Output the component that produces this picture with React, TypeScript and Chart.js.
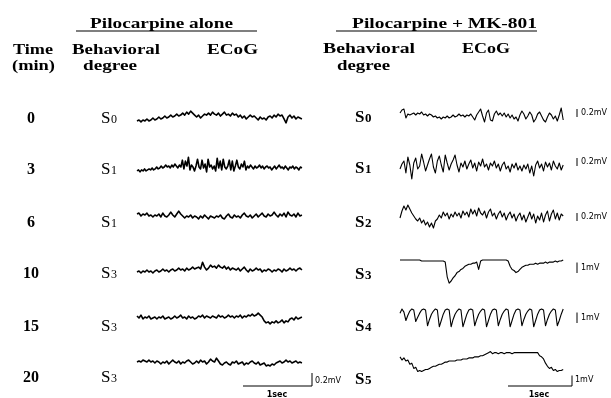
import React, { useEffect, useRef } from 'react';
import { Chart, registerables } from 'chart.js';

Chart.register(...registerables);

// ---------- data ----------
const TIMES_MIN = ['0', '3', '6', '10', '15', '20'];
const STAGES_ALONE = ['S0', 'S1', 'S1', 'S3', 'S3', 'S3'];
const STAGES_MK801 = ['S0', 'S1', 'S2', 'S3', 'S4', 'S5'];
const SCALE_MV_MK801 = [0.2, 0.2, 0.2, 1, 1, 1];
const SCALE_MV_ALONE = 0.2;
const SCALE_SEC = 1;

// ECoG amplitudes (µV), pilocarpine alone
const ALONE_0 = [-45,-30,-60,-30,-45,-15,-45,-30,0,-30,
-15,15,-15,0,30,0,15,45,15,30,
60,30,45,75,45,90,60,105,75,45,
15,45,0,30,60,45,75,45,90,60,
45,75,30,60,90,45,60,30,75,45,
60,15,45,0,30,-15,15,45,15,30,
0,-30,15,-15,0,-30,15,30,0,45,
15,60,30,45,-15,-75,15,45,0,30,
-15,15,0,-15];
const ALONE_3 = [-60,-45,-75,-45,-60,-30,-60,-45,-30,-45,
-15,-45,-30,0,-30,-15,15,-15,0,30,
0,15,-15,30,0,45,15,-15,30,0,
105,-30,90,15,150,-45,30,0,-60,15,
120,0,-30,105,-15,45,-75,120,0,30,
-30,15,-60,135,-15,90,-45,120,0,-30,
15,105,-45,90,-60,15,105,0,-30,45,
0,90,-45,15,-15,30,0,-30,15,-15,
0,30,-15,15,-30,0,15,-15,0,-45,
-15,15,-30,0,30,-15,0,-30,15,-15,
-45,0,-15,15,-30,0,-15,-45,0,-15];
const ALONE_6 = [30,45,0,30,15,45,0,15,-15,15,
0,30,-15,45,0,-15,15,60,15,-15,
30,75,30,0,-30,0,-15,15,-30,0,
-15,-45,0,-30,15,-15,-45,0,-15,-30,
0,-15,15,-30,-45,0,30,-15,-30,15,
-15,0,-30,15,45,0,-15,15,-30,0,
30,-15,15,45,0,-15,30,0,15,60,
15,-15,30,0,45,-15,60,15,0,30,
-15,45,0,15];
const ALONE_10 = [-15,0,-30,0,-15,15,-15,0,-30,0,
15,-15,0,30,0,15,-15,15,30,0,
15,45,15,30,0,45,15,30,60,30,
45,60,30,135,60,15,45,90,60,75,
45,90,60,45,75,30,60,15,45,30,
15,45,0,30,60,15,-15,30,0,15,
45,15,30,-15,15,0,30,15,-15,15,
0,30,15,-15,30,0,15,45,15,30,
0,30,45,15];
const ALONE_15 = [30,0,45,-15,15,0,30,-15,0,15,
-15,15,0,30,-15,0,15,-15,0,30,
0,15,45,0,15,-15,30,0,15,-15,
0,30,15,45,0,30,15,0,30,15,
0,45,15,30,0,15,45,15,30,0,
30,15,45,0,30,15,45,30,60,30,
45,75,45,15,-45,-75,-60,-90,-60,-75,
-45,-75,-60,-30,-75,-45,-60,-15,0,-30,
15,-15,0,15];
const ALONE_20 = [15,30,15,45,30,15,45,15,30,0,
30,15,-15,15,0,30,-15,15,45,15,
0,30,-15,15,0,30,45,15,-15,0,
30,0,45,15,30,-15,15,60,30,15,
75,30,-15,-30,0,15,-15,-30,15,0,
30,-15,0,15,-30,0,-15,15,30,0,
-15,15,-30,-15,0,-45,-30,-45,-15,-30,
0,15,30,0,15,45,15,30,0,15,
30,0,15,0];

// ECoG amplitudes (µV), pilocarpine + MK-801
const MK_0 = [100,175,200,-25,75,50,75,100,50,100,
75,125,50,75,25,75,50,0,25,-25,
0,-50,0,-25,25,-25,0,50,0,25,
75,25,50,0,50,25,75,0,-75,50,
125,200,25,-125,100,175,-75,-100,75,150,
50,100,25,100,0,75,-25,50,-50,0,
-100,50,150,75,-50,25,125,50,-125,-50,
75,125,25,-75,-125,0,100,50,-50,25,
-100,50,225,-75];
const MK_3 = [-50,75,150,-150,250,50,-300,100,225,-50,
25,325,125,-100,50,200,325,0,-150,150,
275,50,-125,300,100,-75,75,175,300,50,
-125,100,0,150,-50,75,175,-25,100,-100,
125,25,200,0,75,-75,100,25,150,-25,
75,-100,50,125,-50,25,-125,75,-25,100,
-75,25,-100,50,-50,75,-150,25,-225,50,
150,-25,75,-100,125,0,100,-75,150,25,
-50,100,-75,50];
const MK_6 = [-25,150,275,175,300,200,100,25,-50,-100,
-25,-150,-75,-200,-125,-250,-150,-275,-100,-50,
50,-25,125,25,100,-50,75,0,125,25,
100,-25,150,50,125,0,200,75,175,25,
225,100,50,150,-25,125,200,25,100,-50,
75,150,0,100,-75,50,125,-25,75,-100,
25,100,-75,50,-125,0,125,-50,75,-150,
25,-75,100,-125,50,150,-100,75,175,-50,
100,-75,75,25];
const MK_10 = [0,0,0,0,0,0,0,0,0,0,
0,-100,-100,-100,-100,-100,-100,-100,-100,-100,
-100,-100,-100,-200,-1600,-2200,-2000,-1700,-1500,-1200,
-1100,-900,-800,-600,-500,-400,-400,-300,-300,-200,
-900,-100,0,0,0,0,0,0,0,0,
0,0,0,0,0,-100,-600,-900,-1000,-1200,
-1100,-900,-700,-600,-500,-500,-400,-400,-400,-300,
-400,-300,-300,-300,-200,-300,-200,-200,-200,-100,
-200,-100,-100,0];
const MK_15 = [-300,100,-200,-1000,-500,-100,
100,0,-1100,-700,-300,0,
100,0,-1500,-900,-400,-100,
100,0,-1600,-1000,-400,0,
100,0,-1600,-900,-400,-100,
100,0,-1600,-1000,-400,0,
100,0,-1500,-900,-400,-100,
100,0,-1600,-1000,-400,0,
100,0,-1500,-900,-400,-100,
100,0,-1600,-1000,-400,0,
100,0,-1500,-900,-400,-100,
100,0,-1600,-1000,-400,0,
100,0,-1500,-900,-400,-100,
100,0,-1500,-1000,-400,100];
const MK_20 = [300,0,200,-100,0,-400,-300,-800,-700,-1100,
-1000,-1100,-1000,-900,-900,-800,-700,-600,-600,-500,
-400,-400,-300,-200,-200,-100,-100,-100,-100,0,
0,0,100,100,100,200,200,200,300,300,
300,400,400,500,600,700,800,600,700,700,
600,700,700,600,700,700,700,600,700,700,
700,700,700,700,700,700,700,700,700,700,
700,400,300,100,-300,-600,-800,-700,-1000,-900,
-1100,-1000,-1000,-900];

const ALONE_TRACES = [ALONE_0, ALONE_3, ALONE_6, ALONE_10, ALONE_15, ALONE_20];
const MK_TRACES = [MK_0, MK_3, MK_6, MK_10, MK_15, MK_20];

// ---------- layout ----------
const W = 611;
const H = 398;
const LABEL_Y = [117, 168, 221, 272, 325, 376];
const MK_LABEL_Y = [116, 167, 221, 273, 325, 378];
const ALONE_BASE_Y = [118, 167, 216, 271, 318, 363];
const MK_BASE_Y = [117, 167, 217, 260, 310, 360];
const ALONE_X0 = 137;
const ALONE_PX_PER_S = 69;
const ALONE_DUR_S = 2.39;
const ALONE_GAIN = 0.065; // px per µV
const MK_X0 = 400;
const MK_PX_PER_S = 64;
const MK_DUR_S = 2.55;
const MK_GAIN = [0.04, 0.04, 0.04, 0.0105, 0.0105, 0.0105];
const MK_BAR_X = 577;
const MK_BAR_BOTTOM = [117, 166, 221, 273, 323];

const SERIF = '"Liberation Serif", "Times New Roman", serif';
const SANS = '"DejaVu Sans", sans-serif';

function tracePoints(values: number[], x0: number, pxPerS: number, dur: number, baseY: number, gain: number) {
  const n = values.length;
  return values.map((v, i) => ({ x: x0 + (i / (n - 1)) * dur * pxPerS, y: baseY - v * gain }));
}

function lineDs(data: { x: number; y: number }[], width: number) {
  return {
    data,
    borderColor: '#000',
    backgroundColor: '#000',
    borderWidth: width,
    pointRadius: 0,
    fill: false,
    tension: 0,
    borderJoinStyle: 'round' as const,
    borderCapStyle: 'butt' as const,
  };
}

function drawFit(ctx: CanvasRenderingContext2D, text: string, x: number, y: number, font: string, width?: number) {
  ctx.save();
  ctx.font = font;
  ctx.textBaseline = 'alphabetic';
  ctx.textAlign = 'left';
  const m = ctx.measureText(text).width;
  const s = width ? width / m : 1;
  ctx.translate(x, y);
  ctx.scale(s, 1);
  ctx.fillText(text, 0, 0);
  ctx.restore();
}

function drawStage(ctx: CanvasRenderingContext2D, label: string, x: number, y: number, bold: boolean, big: number, small: number) {
  const w = bold ? 'bold ' : '';
  ctx.save();
  ctx.textBaseline = 'alphabetic';
  ctx.textAlign = 'left';
  ctx.font = `${w}${big}px ${SERIF}`;
  ctx.fillText(label[0], x, y);
  const sw = ctx.measureText(label[0]).width;
  ctx.font = `${w}${small}px ${SERIF}`;
  ctx.fillText(label.slice(1), x + sw + 0.5, y);
  ctx.restore();
}

const textPlugin = {
  id: 'figureText',
  afterDraw(chart: any) {
    const ctx: CanvasRenderingContext2D = chart.ctx;
    const sx = chart.scales.x;
    const sy = chart.scales.y;
    const px = (v: number) => sx.getPixelForValue(v);
    const py = (v: number) => sy.getPixelForValue(v);
    ctx.save();
    ctx.fillStyle = '#000';
    ctx.strokeStyle = '#000';
    const hb = `bold 15px ${SERIF}`;
    // titles
    drawFit(ctx, 'Pilocarpine alone', px(90), py(28), hb, 143);
    drawFit(ctx, 'Pilocarpine + MK-801', px(352), py(28), hb, 185);
    ctx.lineWidth = 1.2;
    ctx.beginPath();
    ctx.moveTo(px(76), py(31)); ctx.lineTo(px(257), py(31));
    ctx.moveTo(px(336), py(31)); ctx.lineTo(px(537), py(31));
    ctx.stroke();
    // headers
    drawFit(ctx, 'Time', px(13), py(53.5), hb, 40);
    drawFit(ctx, '(min)', px(12), py(70), hb, 43);
    drawFit(ctx, 'Behavioral', px(72), py(53.5), hb, 88);
    drawFit(ctx, 'degree', px(83), py(70), hb, 54);
    drawFit(ctx, 'ECoG', px(207), py(53.5), hb, 51);
    drawFit(ctx, 'Behavioral', px(323), py(53), hb, 92);
    drawFit(ctx, 'degree', px(337), py(70), hb, 53);
    drawFit(ctx, 'ECoG', px(462), py(53), hb, 48);
    // rows
    TIMES_MIN.forEach((t, i) => {
      ctx.font = `bold 16px ${SERIF}`;
      ctx.textAlign = 'center';
      ctx.textBaseline = 'alphabetic';
      ctx.fillText(t, px(31), py(LABEL_Y[i] + 5.5));
      drawStage(ctx, STAGES_ALONE[i], px(101), py(LABEL_Y[i] + 5.5), false, 17, 12);
      drawStage(ctx, STAGES_MK801[i], px(355), py(MK_LABEL_Y[i] + 5.5), true, 17, 13);
    });
    // scale labels
    ctx.textAlign = 'left';
    ctx.textBaseline = 'middle';
    ctx.font = `8px ${SANS}`;
    MK_BAR_BOTTOM.forEach((b, i) => {
      const len = SCALE_MV_MK801[i] * 1000 * MK_GAIN[i];
      ctx.fillText(`${SCALE_MV_MK801[i]}mV`, px(MK_BAR_X + 4), py(b - len / 2));
    });
    ctx.fillText(`${SCALE_MV_MK801[5]}mV`, px(575), py(380));
    ctx.fillText(`${SCALE_MV_ALONE}mV`, px(315), py(381));
    ctx.font = `bold 8px ${SANS}`;
    ctx.textAlign = 'center';
    ctx.textBaseline = 'top';
    ctx.fillText(`${SCALE_SEC}sec`, px(277), py(391));
    ctx.fillText(`${SCALE_SEC}sec`, px(539), py(391));
    ctx.restore();
  },
};

export default function App() {
  const ref = useRef<HTMLCanvasElement | null>(null);
  useEffect(() => {
    document.body.style.margin = '0';
    const canvas = ref.current!;
    const datasets: any[] = [];
    ALONE_TRACES.forEach((vals, i) => {
      datasets.push(lineDs(tracePoints(vals, ALONE_X0, ALONE_PX_PER_S, ALONE_DUR_S, ALONE_BASE_Y[i], ALONE_GAIN), 1.6));
    });
    MK_TRACES.forEach((vals, i) => {
      datasets.push(lineDs(tracePoints(vals, MK_X0, MK_PX_PER_S, MK_DUR_S, MK_BASE_Y[i], MK_GAIN[i]), 1.1));
    });
    // MK-801 vertical scale bars
    MK_BAR_BOTTOM.forEach((b, i) => {
      const len = SCALE_MV_MK801[i] * 1000 * MK_GAIN[i];
      datasets.push(lineDs([{ x: MK_BAR_X, y: b }, { x: MK_BAR_X, y: b - len }], 1));
    });
    // bottom calibration bars (MK-801)
    const mkEnd = 572;
    const mkLen = SCALE_MV_MK801[5] * 1000 * MK_GAIN[5];
    datasets.push(lineDs([
      { x: mkEnd - SCALE_SEC * MK_PX_PER_S, y: 386 },
      { x: mkEnd, y: 386 },
      { x: mkEnd, y: 386 - mkLen },
    ], 1));
    // bottom calibration bars (alone)
    const alEnd = 312;
    const alLen = SCALE_MV_ALONE * 1000 * ALONE_GAIN;
    datasets.push(lineDs([
      { x: alEnd - SCALE_SEC * ALONE_PX_PER_S, y: 386 },
      { x: alEnd, y: 386 },
      { x: alEnd, y: 386 - alLen },
    ], 1));

    const chart = new Chart(canvas, {
      type: 'line',
      data: { datasets },
      options: {
        animation: false,
        responsive: false,
        devicePixelRatio: 1,
        parsing: false as any,
        normalized: true,
        layout: { padding: 0 },
        scales: {
          x: { type: 'linear', min: 0, max: W, display: false },
          y: { type: 'linear', min: 0, max: H, reverse: true, display: false },
        },
        plugins: { legend: { display: false }, tooltip: { enabled: false } },
        events: [],
      },
      plugins: [textPlugin],
    });
    return () => chart.destroy();
  }, []);
  return (
    <div style={{ position: 'fixed', left: 0, top: 0, width: W, height: H, background: '#fff' }}>
      <canvas ref={ref} width={W} height={H} style={{ display: 'block' }} />
    </div>
  );
}
